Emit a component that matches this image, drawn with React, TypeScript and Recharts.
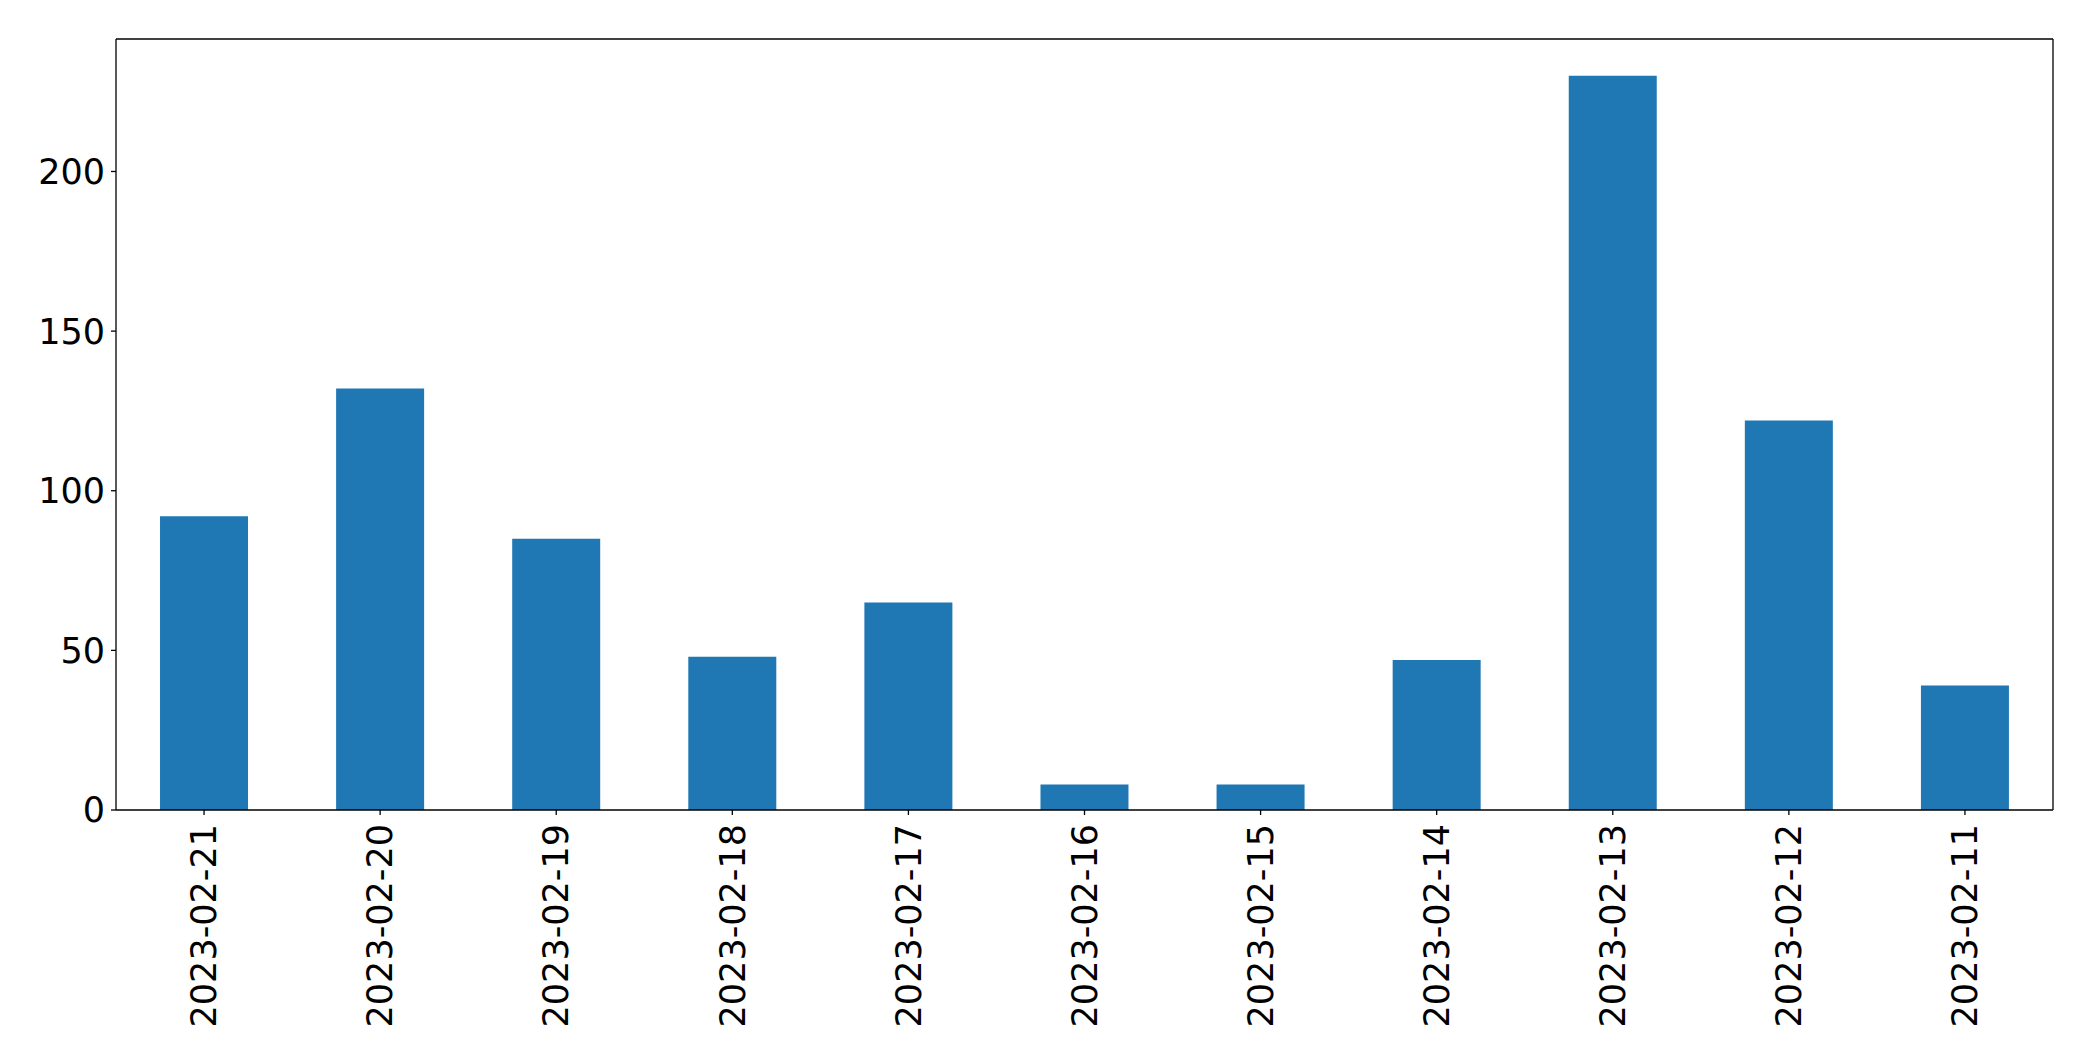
import { BarChart, Bar, XAxis, YAxis, CartesianGrid } from 'recharts';

const dates = [
  '2023-02-21',
  '2023-02-20',
  '2023-02-19',
  '2023-02-18',
  '2023-02-17',
  '2023-02-16',
  '2023-02-15',
  '2023-02-14',
  '2023-02-13',
  '2023-02-12',
  '2023-02-11',
];
const counts = [92, 132, 85, 48, 65, 8, 8, 47, 230, 122, 39];
const yTicks = [0, 50, 100, 150, 200];

const data = dates.map((d, i) => ({ date: d, count: counts[i] }));

const FONT = '"DejaVu Sans", sans-serif';

// rotated date label, reads bottom-to-top like matplotlib rotation=90
const DateTick = ({ x, y, payload }: { x?: number; y?: number; payload?: { value: string } }) => (
  <text
    x={x}
    y={y}
    dy="0.35em"
    transform={`rotate(-90, ${x}, ${y})`}
    textAnchor="end"
    fill="#000"
    fontSize={35}
    fontFamily={FONT}
  >
    {payload?.value}
  </text>
);

type GenArgs = { offset: { top: number; left: number; width: number; height: number } };

export default function App() {
  return (
    <div style={{ position: 'absolute', left: 0, top: 0, background: '#fff' }}>
      <BarChart
        width={2093}
        height={1061}
        data={data}
        margin={{ top: 39, right: 40, bottom: 0, left: 0 }}
        barCategoryGap="25%"
      >
        {/* top and right spines of the frame */}
        <CartesianGrid
          stroke="#000"
          strokeWidth={1.3}
          horizontalCoordinatesGenerator={({ offset }: GenArgs) => [offset.top]}
          verticalCoordinatesGenerator={({ offset }: GenArgs) => [offset.left + offset.width]}
        />
        <XAxis
          dataKey="date"
          height={251}
          interval={0}
          tickSize={5}
          tickMargin={9}
          tick={<DateTick />}
          axisLine={{ stroke: '#000', strokeWidth: 1.3 }}
          tickLine={{ stroke: '#000', strokeWidth: 1.3 }}
        />
        <YAxis
          width={116}
          domain={[0, 241.5]}
          ticks={yTicks}
          tickSize={5}
          tickMargin={6}
          tick={{ fill: '#000', fontSize: 35, fontFamily: FONT }}
          axisLine={{ stroke: '#000', strokeWidth: 1.3 }}
          tickLine={{ stroke: '#000', strokeWidth: 1.3 }}
        />
        <Bar dataKey="count" fill="#1f77b4" isAnimationActive={false} />
      </BarChart>
    </div>
  );
}
